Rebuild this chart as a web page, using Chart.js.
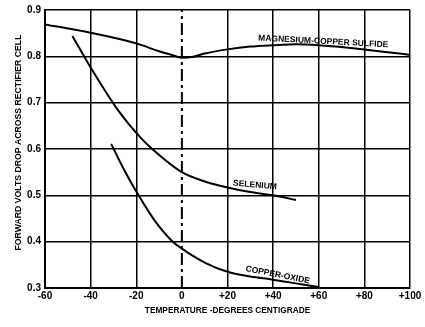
<!DOCTYPE html>
<html>
<head>
<meta charset="utf-8">
<script src="https://cdn.jsdelivr.net/npm/chart.js@4"></script>
<style>
  body { margin: 0; background: #fff; }
  #wrap { width: 425px; height: 327px; position: relative; }
</style>
</head>
<body>
<div id="wrap"><canvas id="chart"></canvas></div>
<script>
// temperature (deg C) and forward volts for each rectifier type
const mgTemps = [-60, -40, -20, -10, -5, 0, 5, 10, 20, 30, 40, 50, 60, 80, 100];
const mgVolts = [0.869, 0.851, 0.828, 0.811, 0.804, 0.797, 0.799, 0.806, 0.815, 0.821, 0.824, 0.826, 0.824, 0.815, 0.803];

const seTemps = [-48, -40, -28, -18, -13, 0, 10, 20, 30, 40, 50];
const seVolts = [0.844, 0.776, 0.684, 0.624, 0.600, 0.550, 0.530, 0.517, 0.507, 0.500, 0.490];

const cuTemps = [-31, -25, -19, -12, -4, 0, 10, 20, 30, 40, 50, 60];
const cuVolts = [0.611, 0.552, 0.500, 0.446, 0.400, 0.385, 0.355, 0.335, 0.325, 0.318, 0.310, 0.302];

const curveLabels = [
  { text: 'MAGNESIUM-COPPER SULFIDE', x: 62, y: 0.832, angle: 3 },
  { text: 'SELENIUM', x: 32, y: 0.522, angle: 5 },
  { text: 'COPPER-OXIDE', x: 42, y: 0.328, angle: 11 }
];

const yTitle = 'FORWARD VOLTS DROP ACROSS RECTIFIER CELL';

const FONT = "'Liberation Sans Narrow', 'Arial Narrow', 'Liberation Sans', sans-serif";

const toPoints = (xs, ys) => xs.map((x, i) => ({ x: x, y: ys[i] }));

const curveStyle = {
  borderColor: '#000',
  borderWidth: 2,
  pointRadius: 0,
  cubicInterpolationMode: 'monotone',
  fill: false
};

const curveLabelPlugin = {
  id: 'curveLabels',
  afterDatasetsDraw(chart) {
    const ctx = chart.ctx;
    const xs = chart.scales.x;
    const ys = chart.scales.y;
    ctx.save();
    ctx.fillStyle = '#000';
    ctx.font = 'bold 8.5px ' + FONT;
    ctx.textAlign = 'center';
    ctx.textBaseline = 'middle';
    curveLabels.forEach(l => {
      ctx.save();
      ctx.translate(xs.getPixelForValue(l.x), ys.getPixelForValue(l.y));
      ctx.rotate(l.angle * Math.PI / 180);
      ctx.fillText(l.text, 0, 0);
      ctx.restore();
    });

    // y axis title, drawn by hand so it can sit where the original has it
    ctx.font = 'bold 8.7px ' + FONT;
    ctx.translate(19, ys.getPixelForValue(0.614));
    ctx.rotate(-Math.PI / 2);
    ctx.fillText(yTitle, 0, 0);
    ctx.restore();
  }
};

new Chart(document.getElementById('chart'), {
  type: 'line',
  data: {
    datasets: [
      { ...curveStyle, label: 'Magnesium-copper sulfide', data: toPoints(mgTemps, mgVolts) },
      { ...curveStyle, label: 'Selenium', data: toPoints(seTemps, seVolts) },
      { ...curveStyle, label: 'Copper-oxide', data: toPoints(cuTemps, cuVolts) },
      {
        label: 'zero',
        data: [{ x: 0, y: 0.3 }, { x: 0, y: 0.9 }],
        borderColor: '#000',
        borderWidth: 2,
        borderDash: [12, 4, 3, 4],
        pointRadius: 0
      }
    ]
  },
  options: {
    responsive: true,
    maintainAspectRatio: false,
    animation: false,
    layout: { padding: { top: 9, right: 15, left: 0, bottom: 0 } },
    plugins: { legend: { display: false }, tooltip: { enabled: false } },
    scales: {
      x: {
        type: 'linear',
        min: -60,
        max: 100,
        afterFit: s => { s.height = 39; },
        ticks: {
          stepSize: 20,
          color: '#000',
          padding: 2,
          font: { family: FONT, size: 10, weight: 'bold' },
          callback: v => (v > 0 ? '+' + v : String(v))
        },
        grid: {
          color: ctx => (ctx.tick && ctx.tick.value === 0 ? 'rgba(0,0,0,0)' : '#000'),
          lineWidth: 1.5,
          drawTicks: false
        },
        border: { display: true, color: '#000', width: 2 },
        title: {
          display: true,
          text: 'TEMPERATURE -DEGREES CENTIGRADE',
          color: '#000',
          padding: { top: 0, bottom: 11 },
          font: { family: FONT, size: 8.3, weight: 'bold' }
        }
      },
      y: {
        min: 0.3,
        max: 0.9,
        afterFit: s => { s.width = 45; },
        ticks: {
          stepSize: 0.1,
          color: '#000',
          padding: 4,
          font: { family: FONT, size: 10, weight: 'bold' },
          callback: v => v.toFixed(1)
        },
        grid: { color: '#000', lineWidth: 1.5, drawTicks: false },
        border: { display: true, color: '#000', width: 2 }
      }
    }
  },
  plugins: [curveLabelPlugin]
});
</script>
</body>
</html>
